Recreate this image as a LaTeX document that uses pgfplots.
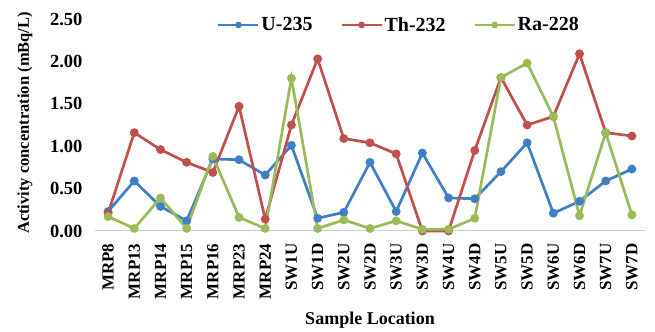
\documentclass[border=0pt]{standalone}
\usepackage{fontspec}
\setmainfont{Liberation Serif}
\usepackage{pgfplots}
\pgfplotsset{compat=1.18}
\definecolor{cU}{HTML}{3F7FC6}
\definecolor{cTh}{HTML}{C0504D}
\definecolor{cRa}{HTML}{9BBB59}
\begin{document}
\begin{tikzpicture}
\begin{axis}[
  scale only axis, width=550pt, height=212pt,
  xmin=-0.5, xmax=20.5, ymin=0, ymax=2.5,
  ytick={0,0.5,1,1.5,2,2.5},
  xtick={0,...,20},
  xticklabels={MRP8,MRP13,MRP14,MRP15,MRP16,MRP23,MRP24,SW1U,SW1D,SW2U,SW2D,SW3U,SW3D,SW4U,SW4D,SW5U,SW5D,SW6U,SW6D,SW7U,SW7D},
  axis x line=bottom, axis y line=left,
  axis line style={-},
  x axis line style={draw=black!20, line width=1pt},
  y axis line style={draw=none},
  major tick length=0pt,
  x tick label style={rotate=90, anchor=east, xshift=-9pt, font=\fontsize{17}{17}\selectfont\bfseries},
  y tick label style={font=\fontsize{18.5}{18.5}\selectfont\bfseries, xshift=-9pt},
  yticklabel style={/pgf/number format/.cd, fixed, fixed zerofill, precision=2, assume math mode=true},
  ylabel={Activity concentration (mBq/L)},
  ylabel style={font=\fontsize{16.5}{16.5}\selectfont\bfseries, at={(axis description cs:0,0.51)}, anchor=center, yshift=70pt},
  xlabel={Sample Location},
  xlabel style={font=\fontsize{18}{18}\selectfont\bfseries, at={(axis description cs:0.5,0)}, anchor=center, yshift=-89pt},
  legend columns=3,
  legend style={draw=none, fill=none, at={(axis description cs:0.553,0.972)}, anchor=center,
    font=\fontsize{20}{20}\selectfont\bfseries, /tikz/every even column/.append style={column sep=26pt}},
  legend image code/.code={\draw[#1, line width=2pt] (0pt,0pt) -- (40pt,0pt); \draw[#1, line width=2pt, mark size=2.3pt, mark repeat=2,mark phase=2] plot coordinates {(0pt,0pt) (20pt,0pt) (40pt,0pt)};},
  every axis plot/.append style={line width=2.7pt, mark=*, mark size=3pt},
  clip=false,
]
\addplot[cU, mark options={fill=cU}] coordinates {
(0,0.23) (1,0.59) (2,0.29) (3,0.12) (4,0.85) (5,0.84) (6,0.66) (7,1.01) (8,0.15) (9,0.22) (10,0.81)
(11,0.23) (12,0.92) (13,0.39) (14,0.38) (15,0.70) (16,1.04) (17,0.21) (18,0.35) (19,0.59) (20,0.73)};
\addlegendentry{U-235}
\addplot[cTh, mark options={fill=cTh}] coordinates {
(0,0.21) (1,1.16) (2,0.96) (3,0.81) (4,0.69) (5,1.47) (6,0.14) (7,1.25) (8,2.03) (9,1.09) (10,1.04)
(11,0.91) (12,0.00) (13,0.00) (14,0.95) (15,1.81) (16,1.25) (17,1.35) (18,2.09) (19,1.16) (20,1.12)};
\addlegendentry{Th-232}
\addplot[cRa, mark options={fill=cRa}] coordinates {
(0,0.17) (1,0.03) (2,0.39) (3,0.03) (4,0.88) (5,0.16) (6,0.03) (7,1.80) (8,0.03) (9,0.13) (10,0.03)
(11,0.12) (12,0.02) (13,0.02) (14,0.15) (15,1.81) (16,1.98) (17,1.35) (18,0.18) (19,1.16) (20,0.19)};
\addlegendentry{Ra-228}
\path (rel axis cs:0,0) ++(-95pt,-98pt) coordinate (bbA);
\path (rel axis cs:1,1) ++(10pt,19pt) coordinate (bbB);
\end{axis}
\path (bbA) rectangle (bbB);
\end{tikzpicture}
\end{document}
